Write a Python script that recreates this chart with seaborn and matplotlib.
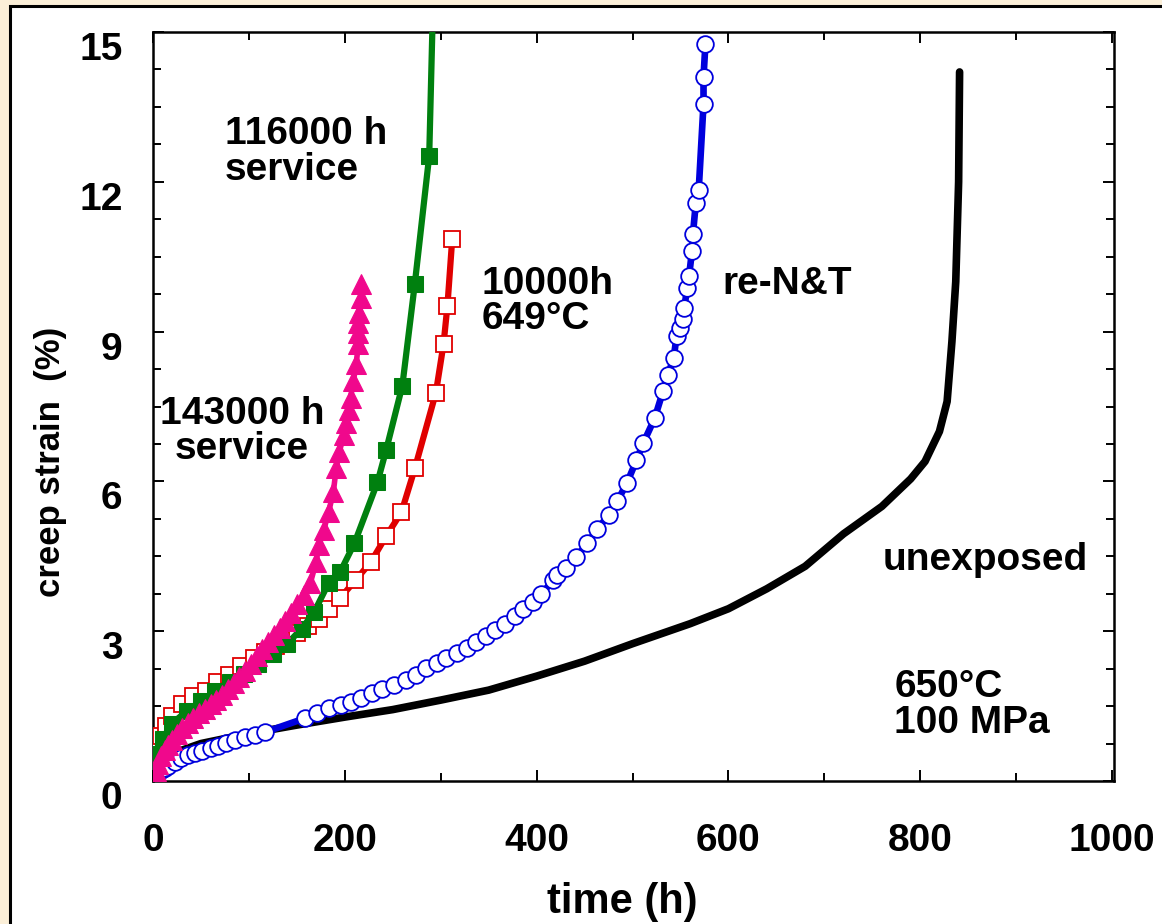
# creep curves, 650C / 100 MPa
import numpy as np
import pandas as pd
import matplotlib
matplotlib.use('Agg')
import matplotlib.pyplot as plt
import matplotlib.transforms as mtransforms
from matplotlib.patches import Rectangle
from matplotlib.ticker import MultipleLocator
import seaborn as sns

# data: time (h), creep strain (%)
unexposed_t = [0, 5, 20, 50, 100, 150, 200, 250, 300, 350, 400, 450, 500, 530, 560, 600,
               640, 680, 720, 760, 790, 805, 820, 828, 833, 837, 840, 841]
unexposed_e = [0, 0.35, 0.55, 0.75, 0.95, 1.12, 1.28, 1.43, 1.62, 1.82, 2.1, 2.4, 2.75, 2.95,
               3.15, 3.45, 3.85, 4.3, 4.95, 5.5, 6.05, 6.4, 7.0, 7.6, 8.8, 10.0, 12.0, 14.2]

renT_t = [0, 1, 2, 3, 5, 7, 10, 13, 16, 23, 29, 37, 44, 51, 60, 68, 76, 86, 96, 106, 117,
          159, 171, 183, 196, 206, 217, 228, 239, 251, 264, 274, 285, 296, 306, 317, 327, 337,
          347, 357, 367, 377, 386, 396, 405, 417, 421, 431, 441, 453, 463, 475, 484, 494, 504,
          511, 523, 532, 537, 543, 546, 550, 553, 554, 557, 559, 562, 563, 566, 569, 574, 574, 576]
renT_e = [0, 0.05, 0.1, 0.14, 0.18, 0.21, 0.24, 0.27, 0.3, 0.38, 0.46, 0.52, 0.56, 0.6, 0.66,
          0.7, 0.76, 0.82, 0.88, 0.92, 0.98, 1.26, 1.36, 1.46, 1.52, 1.58, 1.66, 1.76, 1.84,
          1.92, 2.02, 2.12, 2.26, 2.36, 2.46, 2.56, 2.66, 2.78, 2.9, 3.02, 3.15, 3.3, 3.44, 3.58,
          3.74, 4.02, 4.12, 4.26, 4.48, 4.76, 5.04, 5.32, 5.6, 5.96, 6.42, 6.76, 7.26, 7.82,
          8.14, 8.48, 8.92, 9.08, 9.26, 9.48, 9.88, 10.12, 10.62, 10.96, 11.58, 11.84, 13.56,
          14.1, 14.76]

h10000_t = [0, 2, 5, 8, 14, 20, 30, 42, 55, 67, 79, 92, 105, 117, 128, 140, 150, 162, 173,
            184, 195, 211, 227, 243, 259, 273, 295, 303, 307, 312]
h10000_e = [0, 0.4, 0.6, 0.9, 1.1, 1.3, 1.55, 1.7, 1.8, 1.98, 2.12, 2.3, 2.46, 2.58, 2.7,
            2.85, 2.96, 3.1, 3.25, 3.45, 3.66, 4.02, 4.38, 4.9, 5.38, 6.26, 7.78, 8.76, 9.52,
            10.86]

s116000_t = [0, 2, 5, 10, 20, 35, 50, 65, 80, 95, 110, 125, 140, 155, 168, 183, 195, 210,
             234, 243, 260, 273, 288, 292]
s116000_e = [0, 0.3, 0.55, 0.85, 1.15, 1.4, 1.6, 1.8, 1.98, 2.15, 2.35, 2.55, 2.75, 3.05,
             3.38, 3.96, 4.18, 4.76, 5.98, 6.62, 7.92, 9.96, 12.52, 15.6]

s143000_t = [0, 1, 3, 5, 8, 12, 16, 20, 25, 30, 36, 42, 48, 54, 60, 66, 72, 78, 84, 90, 96,
             102, 108, 114, 120, 126, 132, 138, 144, 150, 157, 164, 170, 173, 178, 183, 188,
             191, 194, 199, 201, 204, 206, 209, 212, 214, 214, 214, 215, 217, 217]
s143000_e = [0, 0.1, 0.2, 0.35, 0.5, 0.62, 0.72, 0.82, 0.95, 1.06, 1.17, 1.26, 1.36, 1.45,
             1.54, 1.62, 1.72, 1.84, 1.96, 2.08, 2.2, 2.34, 2.5, 2.64, 2.78, 2.92, 3.06, 3.2,
             3.36, 3.55, 3.72, 3.96, 4.38, 4.72, 5.02, 5.38, 5.78, 6.26, 6.58, 6.92, 7.16, 7.42,
             7.68, 8.02, 8.36, 8.76, 8.98, 9.18, 9.38, 9.68, 9.96]

x_ticks = [0, 200, 400, 600, 800, 1000]
y_ticks = [0, 3, 6, 9, 12, 15]

# colours
beige = '#FBEFD8'
c_black = '#000000'
c_blue = '#0000DD'
c_red = '#E00000'
c_green = '#00800F'
c_pink = '#F0088C'

sns.set_theme(style='ticks')
plt.rcParams['font.family'] = ['Liberation Sans', 'DejaVu Sans']
plt.rcParams['font.weight'] = 'bold'
plt.rcParams['text.color'] = 'black'
plt.rcParams['axes.labelcolor'] = 'black'

fig = plt.figure(figsize=(11.62, 9.24), dpi=100, facecolor=beige)
panel = Rectangle((10 / 1162, -0.05), 1.2, 1.05 - 6 / 924, transform=fig.transFigure,
                  facecolor='white', edgecolor='black', lw=2.2, zorder=-10)
fig.add_artist(panel)

ax = fig.add_axes([153 / 1162, 1 - 781 / 924, (1114 - 153) / 1162, (781 - 32) / 924])
ax.set_facecolor('white')

sns.lineplot(x=unexposed_t, y=unexposed_e, sort=False, estimator=None, color=c_black,
             lw=5.5, ax=ax, zorder=2)
sns.lineplot(x=renT_t, y=renT_e, sort=False, estimator=None, color=c_blue, lw=4.8,
             marker='o', markersize=12, markerfacecolor='white', markeredgecolor=c_blue,
             markeredgewidth=1.3, ax=ax, zorder=3)
sns.lineplot(x=h10000_t, y=h10000_e, sort=False, estimator=None, color=c_red, lw=4.5,
             marker='s', markersize=12, markerfacecolor='white', markeredgecolor=c_red,
             markeredgewidth=1.3, ax=ax, zorder=4)
sns.lineplot(x=s116000_t, y=s116000_e, sort=False, estimator=None, color=c_green, lw=4.5,
             marker='s', markersize=11.5, markerfacecolor=c_green, markeredgecolor=c_green,
             markevery=slice(0, -1), ax=ax, zorder=5)
sns.lineplot(x=s143000_t, y=s143000_e, sort=False, estimator=None, color=c_pink, lw=4,
             marker='^', markersize=14, markerfacecolor=c_pink, markeredgecolor=c_pink,
             ax=ax, zorder=6)

ax.set_xlim(0, 1002)
ax.set_ylim(0, 15)
ax.set_xticks(x_ticks)
ax.set_yticks(y_ticks)
ax.xaxis.set_minor_locator(MultipleLocator(100))
ax.yaxis.set_minor_locator(MultipleLocator(0.75))
ax.tick_params(which='both', direction='in', top=True, right=True, width=1.4, colors='black')
ax.tick_params(which='major', length=8)
ax.tick_params(which='minor', length=6)
ax.tick_params(axis='x', labelsize=28, pad=30)
ax.tick_params(axis='y', labelsize=28, pad=22)
for lab in ax.get_xticklabels() + ax.get_yticklabels():
    lab.set_fontweight('bold')
# y labels sit a little below their ticks in the original
off = mtransforms.ScaledTranslation(0, -14 / 100, fig.dpi_scale_trans)
for lab in ax.get_yticklabels():
    lab.set_transform(lab.get_transform() + off)
for sp in ax.spines.values():
    sp.set_linewidth(1.8)
    sp.set_color('black')

ax.set_xlabel('time (h)', fontsize=30, fontweight='bold', color='black')
ax.set_ylabel('creep strain  (%)', fontsize=25, fontweight='bold', color='black')
ax.xaxis.set_label_coords(0.488, -0.135)
ax.yaxis.set_label_coords(-0.09, 0.426)

txt = dict(fontsize=28, fontweight='bold', color='black', linespacing=0.98, va='center')
ax.text(75, 12.6, '116000 h\nservice', ha='left', **txt)
ax.text(343, 9.6, '10000h\n649°C', ha='left', **txt)
ax.text(93, 7.0, '143000 h\nservice', ha='center', multialignment='center', **txt)
ax.text(594, 9.96, 're-N&T', ha='left', **txt)
ax.text(761, 4.42, 'unexposed', ha='left', **txt)
ax.text(773, 1.52, '650°C\n100 MPa', ha='left', **txt)

fig.savefig('out.png', dpi=100, facecolor=beige)
